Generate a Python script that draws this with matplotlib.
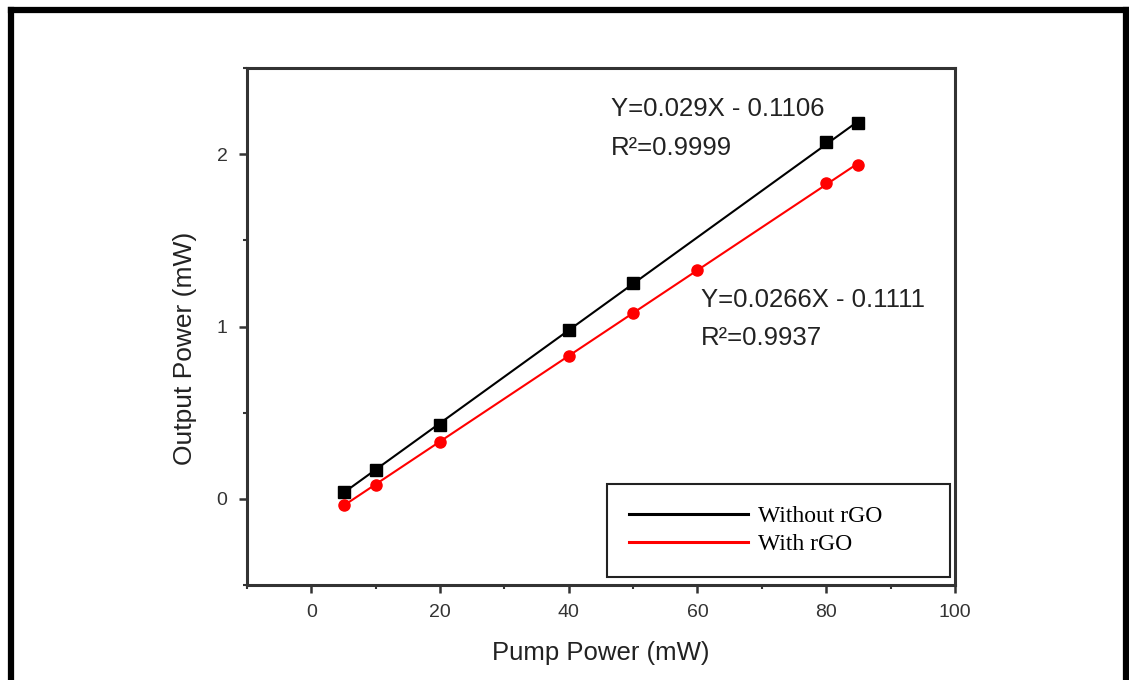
import matplotlib
matplotlib.use("Agg")
import matplotlib.pyplot as plt
from matplotlib.lines import Line2D
from matplotlib.ticker import MultipleLocator
import numpy as np

plt.rcParams['font.family'] = ['Liberation Sans', 'DejaVu Sans']

# Output power vs pump power, with and without rGO
pump_without = [5, 10, 20, 40, 50, 80, 85]
out_without = [0.04, 0.17, 0.43, 0.98, 1.25, 2.07, 2.18]
pump_with = [5, 10, 20, 40, 50, 60, 80, 85]
out_with = [-0.035, 0.08, 0.33, 0.83, 1.08, 1.33, 1.83, 1.94]

eq_without = "Y=0.029X - 0.1106\nR\u00b2=0.9999"
eq_with = "Y=0.0266X - 0.1111\nR\u00b2=0.9937"

fig = plt.figure(figsize=(11.29, 6.8), dpi=100)
ax = fig.add_axes([0.2188, 0.1397, 0.627, 0.7603])

# linear fits through each series
for xs, ys, col, lab, mk in [(pump_without, out_without, 'black', 'Without rGO', 's'),
                             (pump_with, out_with, '#ff0000', 'With rGO', 'o')]:
    xs = np.array(xs, dtype=float)
    ys = np.array(ys, dtype=float)
    k, b = np.polyfit(xs, ys, 1)
    xf = np.array([xs.min(), xs.max()])
    ax.plot(xf, k * xf + b, color=col, lw=1.5, label=lab)
    ax.plot(xs, ys, mk, color=col, ms=8, mec=col, ls='none')

ax.set_xlim(-10, 100)
ax.set_ylim(-0.5, 2.5)
ax.xaxis.set_major_locator(MultipleLocator(20))
ax.xaxis.set_minor_locator(MultipleLocator(10))
ax.yaxis.set_major_locator(MultipleLocator(1))
ax.yaxis.set_minor_locator(MultipleLocator(0.5))
ax.tick_params(which='major', direction='out', length=6, width=1.8,
               labelsize=14, colors='#333333', pad=8)
ax.tick_params(which='minor', direction='out', length=3, width=1.5, colors='#333333')
for sp in ax.spines.values():
    sp.set_linewidth(2.2)
    sp.set_color('#333333')

ax.set_xlabel('Pump Power (mW)', fontsize=18.5, color='#222222', labelpad=14)
ax.set_ylabel('Output Power (mW)', fontsize=19, color='#222222')
ax.yaxis.set_label_coords(-0.07, 0.458)

ax.text(46.5, 2.33, eq_without, fontsize=18.5, color='#222222', va='top',
        linespacing=1.75)
ax.text(60.5, 1.225, eq_with, fontsize=18.5, color='#222222', va='top',
        linespacing=1.75)

handles = [Line2D([], [], color='black', lw=2.2),
           Line2D([], [], color='#ff0000', lw=2.2)]
leg = ax.legend(handles, ['Without rGO', 'With rGO'], loc='lower left',
                bbox_to_anchor=(0.508, 0.0155, 0.4845, 0.17), mode='expand',
                prop={'family': 'Liberation Serif', 'size': 17},
                fancybox=False, edgecolor='#222222', handlelength=5.05,
                handletextpad=0.42, borderpad=0.94, labelspacing=0.25,
                borderaxespad=0, framealpha=1)
leg.get_frame().set_linewidth(1.5)

# border around the figure (open at the bottom)
fig.add_artist(Line2D([10.5 / 1129, 10.5 / 1129], [0, 1 - 9.5 / 680],
                      transform=fig.transFigure, color='black', lw=4.5,
                      solid_capstyle='projecting'))
fig.add_artist(Line2D([10.5 / 1129, 1 - 3.5 / 1129], [1 - 9.5 / 680, 1 - 9.5 / 680],
                      transform=fig.transFigure, color='black', lw=4.5,
                      solid_capstyle='projecting'))
fig.add_artist(Line2D([1 - 3.5 / 1129, 1 - 3.5 / 1129], [0, 1 - 9.5 / 680],
                      transform=fig.transFigure, color='black', lw=4.5,
                      solid_capstyle='projecting'))

fig.savefig('out.png', dpi=100)
